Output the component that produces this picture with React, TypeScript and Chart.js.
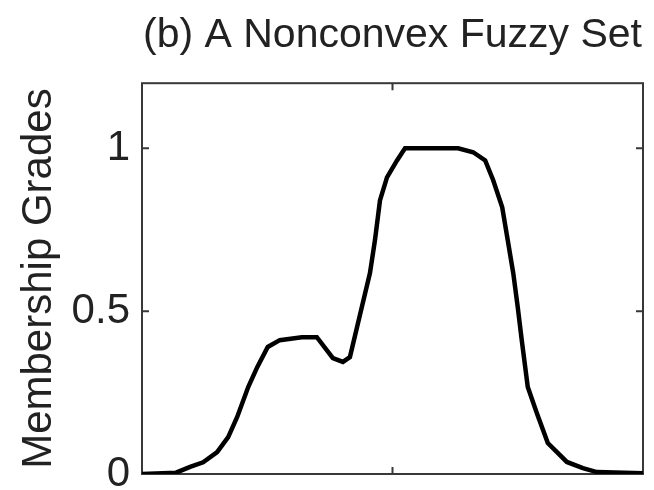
import React, { useEffect, useRef } from "react";
import { Chart, registerables } from "chart.js";

Chart.register(...registerables);

const titleText = "(b) A Nonconvex Fuzzy Set";
const yAxisTitle = "Membership Grades";

const xValues = [
  0, 0.68, 0.96, 1.22, 1.5, 1.72, 1.9, 2.12, 2.3, 2.51, 2.75, 3.19, 3.49, 3.81,
  4.01, 4.15, 4.35, 4.55, 4.65, 4.75, 4.89, 5.09, 5.25, 6.31, 6.61, 6.85, 7.01,
  7.19, 7.29, 7.41, 7.5, 7.58, 7.7, 7.88, 8.1, 8.48, 8.8, 9.08, 10,
];
const yValues = [
  0, 0.004, 0.022, 0.036, 0.067, 0.113, 0.175, 0.267, 0.328, 0.39, 0.411, 0.42,
  0.42, 0.356, 0.344, 0.359, 0.488, 0.617, 0.718, 0.84, 0.911, 0.963, 1.0, 1.0,
  0.988, 0.963, 0.902, 0.819, 0.727, 0.617, 0.512, 0.411, 0.267, 0.187, 0.095,
  0.037, 0.018, 0.006, 0.002,
];
const yTicks = [0, 0.5, 1];
const yTickLabels = ["0", "0.5", "1"];
const xTicks = [5];

const boxPlugin = {
  id: "matlabBox",
  beforeDatasetsDraw(chart: any) {
    const { ctx, chartArea, scales } = chart;
    const { left, right, top, bottom } = chartArea;
    ctx.save();
    ctx.strokeStyle = "#383838";
    ctx.lineWidth = 2;
    ctx.strokeRect(left, top, right - left, bottom - top);
    const tl = 7;
    ctx.beginPath();
    for (const v of yTicks) {
      const py = scales.y.getPixelForValue(v);
      ctx.moveTo(left, py);
      ctx.lineTo(left + tl, py);
      ctx.moveTo(right, py);
      ctx.lineTo(right - tl, py);
    }
    for (const v of xTicks) {
      const px = scales.x.getPixelForValue(v);
      ctx.moveTo(px, bottom);
      ctx.lineTo(px, bottom - tl);
      ctx.moveTo(px, top);
      ctx.lineTo(px, top + tl);
    }
    ctx.stroke();
    ctx.restore();
  },
};

export default function App() {
  const ref = useRef<HTMLCanvasElement | null>(null);

  useEffect(() => {
    if (!ref.current) return;
    const chart = new Chart(ref.current, {
      type: "line",
      data: {
        datasets: [
          {
            data: xValues.map((x, i) => ({ x, y: yValues[i] })),
            borderColor: "#000000",
            borderWidth: 4.5,
            pointRadius: 0,
            tension: 0,
            fill: false,
          },
        ],
      },
      options: {
        responsive: false,
        animation: false,
        layout: { padding: { left: 0, right: 11, top: 0, bottom: 16 } },
        plugins: {
          legend: { display: false },
          tooltip: { enabled: false },
          title: {
            display: true,
            text: titleText,
            fullSize: false,
            color: "#222222",
            font: { family: "'Liberation Sans', Arial, sans-serif", size: 41, weight: "normal", lineHeight: 1.2 },
            padding: { top: 11, bottom: 23 },
          },
        },
        scales: {
          x: {
            type: "linear",
            min: 0,
            max: 10,
            display: false,
          },
          y: {
            type: "linear",
            min: 0,
            max: 1.2,
            afterFit(scale: any) {
              scale.width = 142;
              scale.paddingTop = 0;
              scale.paddingBottom = 0;
            },
            afterBuildTicks(scale: any) {
              scale.ticks = yTicks.map((v) => ({ value: v }));
            },
            grid: { display: false, drawTicks: false },
            border: { display: false },
            ticks: {
              color: "#222222",
              padding: 12,
              font: { family: "'Liberation Sans', Arial, sans-serif", size: 42 },
              callback: (value: any) => {
                const i = yTicks.indexOf(Number(value));
                return i >= 0 ? yTickLabels[i] : "";
              },
            },
            title: {
              display: true,
              text: yAxisTitle,
              color: "#222222",
              font: { family: "'Liberation Sans', Arial, sans-serif", size: 42, lineHeight: 1.2 },
              padding: { top: 14, bottom: 0 },
            },
          },
        },
      },
      plugins: [boxPlugin],
    });
    return () => chart.destroy();
  }, []);

  return (
    <div style={{ position: "fixed", left: 0, top: 0, width: 654, height: 490, background: "#fff" }}>
      <canvas ref={ref} width={654} height={490} />
    </div>
  );
}
